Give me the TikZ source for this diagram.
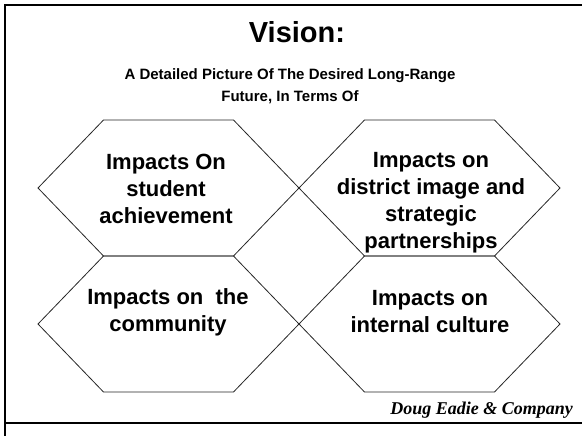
\documentclass[tikz,border=0pt]{standalone}
\usepackage{fontspec}
\usetikzlibrary{calc}
\setmainfont{Liberation Sans}
\newfontfamily\creditfont{Liberation Serif}
\begin{document}
\begin{tikzpicture}[x=1pt,y=-1pt,
  frameline/.style={line width=2.4pt,black},
  hexline/.style={line width=0.8pt,black!85},
  hextext/.style={align=center,font=\fontsize{22}{27}\selectfont\bfseries,inner sep=0pt},
]
\useasboundingbox (0,0) rectangle (582,436);

% slide frame
\draw[frameline] (582,5) -- (5,5) -- (5,436);
\draw[frameline] (5,423) -- (582,423);

% title and subtitle
\node[anchor=base,font=\fontsize{29}{34}\selectfont\bfseries,inner sep=0pt] (title) at (297,43) {Vision:};
\node[anchor=base,font=\fontsize{15}{22}\selectfont\bfseries,inner sep=0pt] (sub1) at (290,80) {A Detailed Picture Of The Desired Long-Range};
\node[anchor=base,font=\fontsize{15}{22}\selectfont\bfseries,inner sep=0pt] (sub2) at (290,102) {Future, In Terms Of};

% four hexagons in a 2x2 grid
\foreach \cx/\cy/\nm in {168.5/188/tl, 429.5/188/tr, 168.5/324/bl, 429.5/324/br}{
  \coordinate (\nm) at (\cx,\cy);
  \draw[hexline] ($(\nm)+(-130.5,0)$) -- ++(65.5,-68) -- ++(130,0) -- ++(65.5,68)
        -- ++(-65.5,68) -- ++(-130,0) -- cycle;
}

\node[hextext] (tlt) at (166,189) {Impacts On\\student\\achievement};
\node[hextext] (trt) at (431,203) {Impacts on\\district image and\\strategic\\partnerships};
\node[hextext] (blt) at (168,312) {Impacts on\ \ the\\community};
\node[hextext] (brt) at (430,312) {Impacts on\\internal culture};

% credit line
\node[anchor=base east,font=\creditfont\fontsize{18}{21}\selectfont\bfseries\itshape,inner sep=0pt] (credit) at (573,414) {Doug Eadie \& Company};
\end{tikzpicture}
\end{document}
